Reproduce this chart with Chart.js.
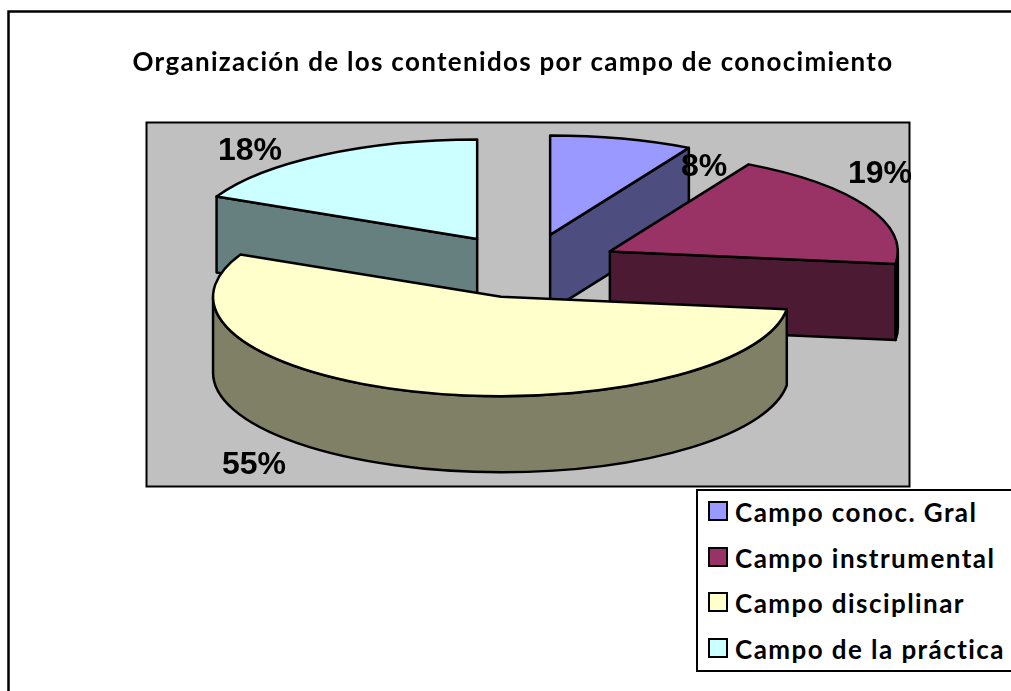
<!DOCTYPE html>
<html lang="es">
<head>
<meta charset="utf-8">
<title>Organización de los contenidos</title>
<script src="https://cdn.jsdelivr.net/npm/chart.js@4"></script>
<style>
    html, body { margin: 0; padding: 0; background: #fff; overflow: hidden; }
    #wrap { position: relative; width: 1011px; height: 691px; }
    #legend {
        position: absolute; left: 696px; top: 489px; width: 320px; height: 183px;
        box-sizing: border-box; border: 2px solid #000; background: #fff;
        font: bold 26px Lato, sans-serif; letter-spacing: 1.44px; color: #000;
    }
    #legend div { position: absolute; left: 37px; line-height: 30px; white-space: nowrap; }
    #legend i { position: absolute; left: -27px; top: 4px; width: 16px; height: 16px; border: 2px solid #000; }
</style>
</head>
<body>
<div id="wrap">
    <canvas id="chart" width="1011" height="691"></canvas>
    <div id="legend"></div>
</div>
<script>
const categories = ['Campo conoc. Gral', 'Campo instrumental', 'Campo disciplinar', 'Campo de la práctica'];
const percentages = [8, 19, 55, 18];
const topColors = ['#9999FF', '#993366', '#FFFFCC', '#CCFFFF'];
const sideColors = ['#4D4D80', '#4D1A33', '#808066', '#668080'];
const drawOrder = [3, 0, 1, 2];   // back slices first

// where the pie sits on the page
const PIE_X = 527, PIE_Y = 266, TILT = 0.345, DEPTH = 76, EXPLODE = 93;
const labelSpots = [[704, 167], [880, 174], [254, 465], [250, 151]];

// squashes the library's arcs into a tilted pie and gives them side walls
const pie3d = {
    id: 'pie3d',
    beforeDraw(chart) {
        const ctx = chart.ctx;
        ctx.save();
        ctx.strokeStyle = '#000';
        ctx.lineWidth = 2.5;
        ctx.strokeRect(8.5, 11.5, 1100, 800);
        ctx.fillStyle = '#C0C0C0';
        ctx.lineWidth = 2;
        ctx.fillRect(146, 122, 764, 365);
        ctx.strokeRect(146.5, 122.5, 763, 364);
        ctx.restore();
        ctx.letterSpacing = '1.3px';   // only the title is drawn with this
    },
    beforeDatasetsDraw(chart) {
        const ctx = chart.ctx;
        const arcs = chart.getDatasetMeta(0).data;
        ctx.letterSpacing = '0px';

        drawOrder.forEach(i => {
            const arc = arcs[i];
            const r = arc.outerRadius;
            const s = arc.startAngle, e = arc.endAngle;
            const mid = (s + e) / 2;
            const cx = PIE_X + EXPLODE * Math.cos(mid);
            const cy = PIE_Y + EXPLODE * TILT * Math.sin(mid);

            ctx.save();
            ctx.lineWidth = 2.5;
            ctx.lineJoin = 'round';
            ctx.strokeStyle = '#000';
            ctx.fillStyle = sideColors[i];

            // cut faces that look towards the viewer
            [[s, Math.cos(s) < -0.001], [e, Math.cos(e) > 0.001]].forEach(([a, visible]) => {
                if (!visible) return;
                const ex = cx + r * Math.cos(a);
                const ey = cy + r * TILT * Math.sin(a);
                ctx.beginPath();
                ctx.moveTo(cx, cy);
                ctx.lineTo(ex, ey);
                ctx.lineTo(ex, ey + DEPTH);
                ctx.lineTo(cx, cy + DEPTH);
                ctx.closePath();
                ctx.fill();
                ctx.stroke();
            });

            // rim, only the front half of the ellipse shows
            const a0 = Math.max(s, 0), a1 = Math.min(e, Math.PI);
            if (a1 > a0) {
                ctx.beginPath();
                ctx.ellipse(cx, cy, r, r * TILT, 0, a0, a1);
                ctx.ellipse(cx, cy + DEPTH, r, r * TILT, 0, a1, a0, true);
                ctx.closePath();
                ctx.fill();
                ctx.stroke();
            }

            // top face, path is built squashed and stroked after restore so the line stays even
            ctx.save();
            ctx.translate(cx, cy);
            ctx.scale(1, TILT);
            ctx.translate(-arc.x, -arc.y);
            arc.draw(ctx);
            ctx.beginPath();
            ctx.moveTo(arc.x, arc.y);
            ctx.arc(arc.x, arc.y, r, s, e);
            ctx.closePath();
            ctx.restore();
            ctx.stroke();
            ctx.restore();
        });

        ctx.save();
        ctx.fillStyle = '#000';
        ctx.font = 'bold 32px "Liberation Sans", Arial, sans-serif';
        ctx.textAlign = 'center';
        ctx.textBaseline = 'middle';
        percentages.forEach((p, i) => ctx.fillText(p + '%', labelSpots[i][0], labelSpots[i][1]));
        ctx.restore();
        return false;
    }
};

new Chart(document.getElementById('chart'), {
    type: 'pie',
    data: {
        labels: categories,
        datasets: [{
            data: percentages,
            backgroundColor: topColors,
            borderWidth: 0,
            clip: false
        }]
    },
    options: {
        responsive: false,
        animation: false,
        radius: 288,
        layout: { padding: { left: 15 } },
        events: [],
        plugins: {
            legend: { display: false },
            tooltip: { enabled: false },
            title: {
                display: true,
                text: 'Organización de los contenidos por campo de conocimiento',
                color: '#000',
                font: { family: 'Lato, sans-serif', size: 26, weight: 'bold' },
                padding: { top: 47, bottom: 10 }
            }
        }
    },
    plugins: [pie3d]
});

const legendEl = document.getElementById('legend');
categories.forEach((name, i) => {
    const row = document.createElement('div');
    row.style.top = (6 + i * 45.7) + 'px';
    row.innerHTML = '<i style="background:' + topColors[i] + '"></i>' + name;
    legendEl.appendChild(row);
});
</script>
</body>
</html>
